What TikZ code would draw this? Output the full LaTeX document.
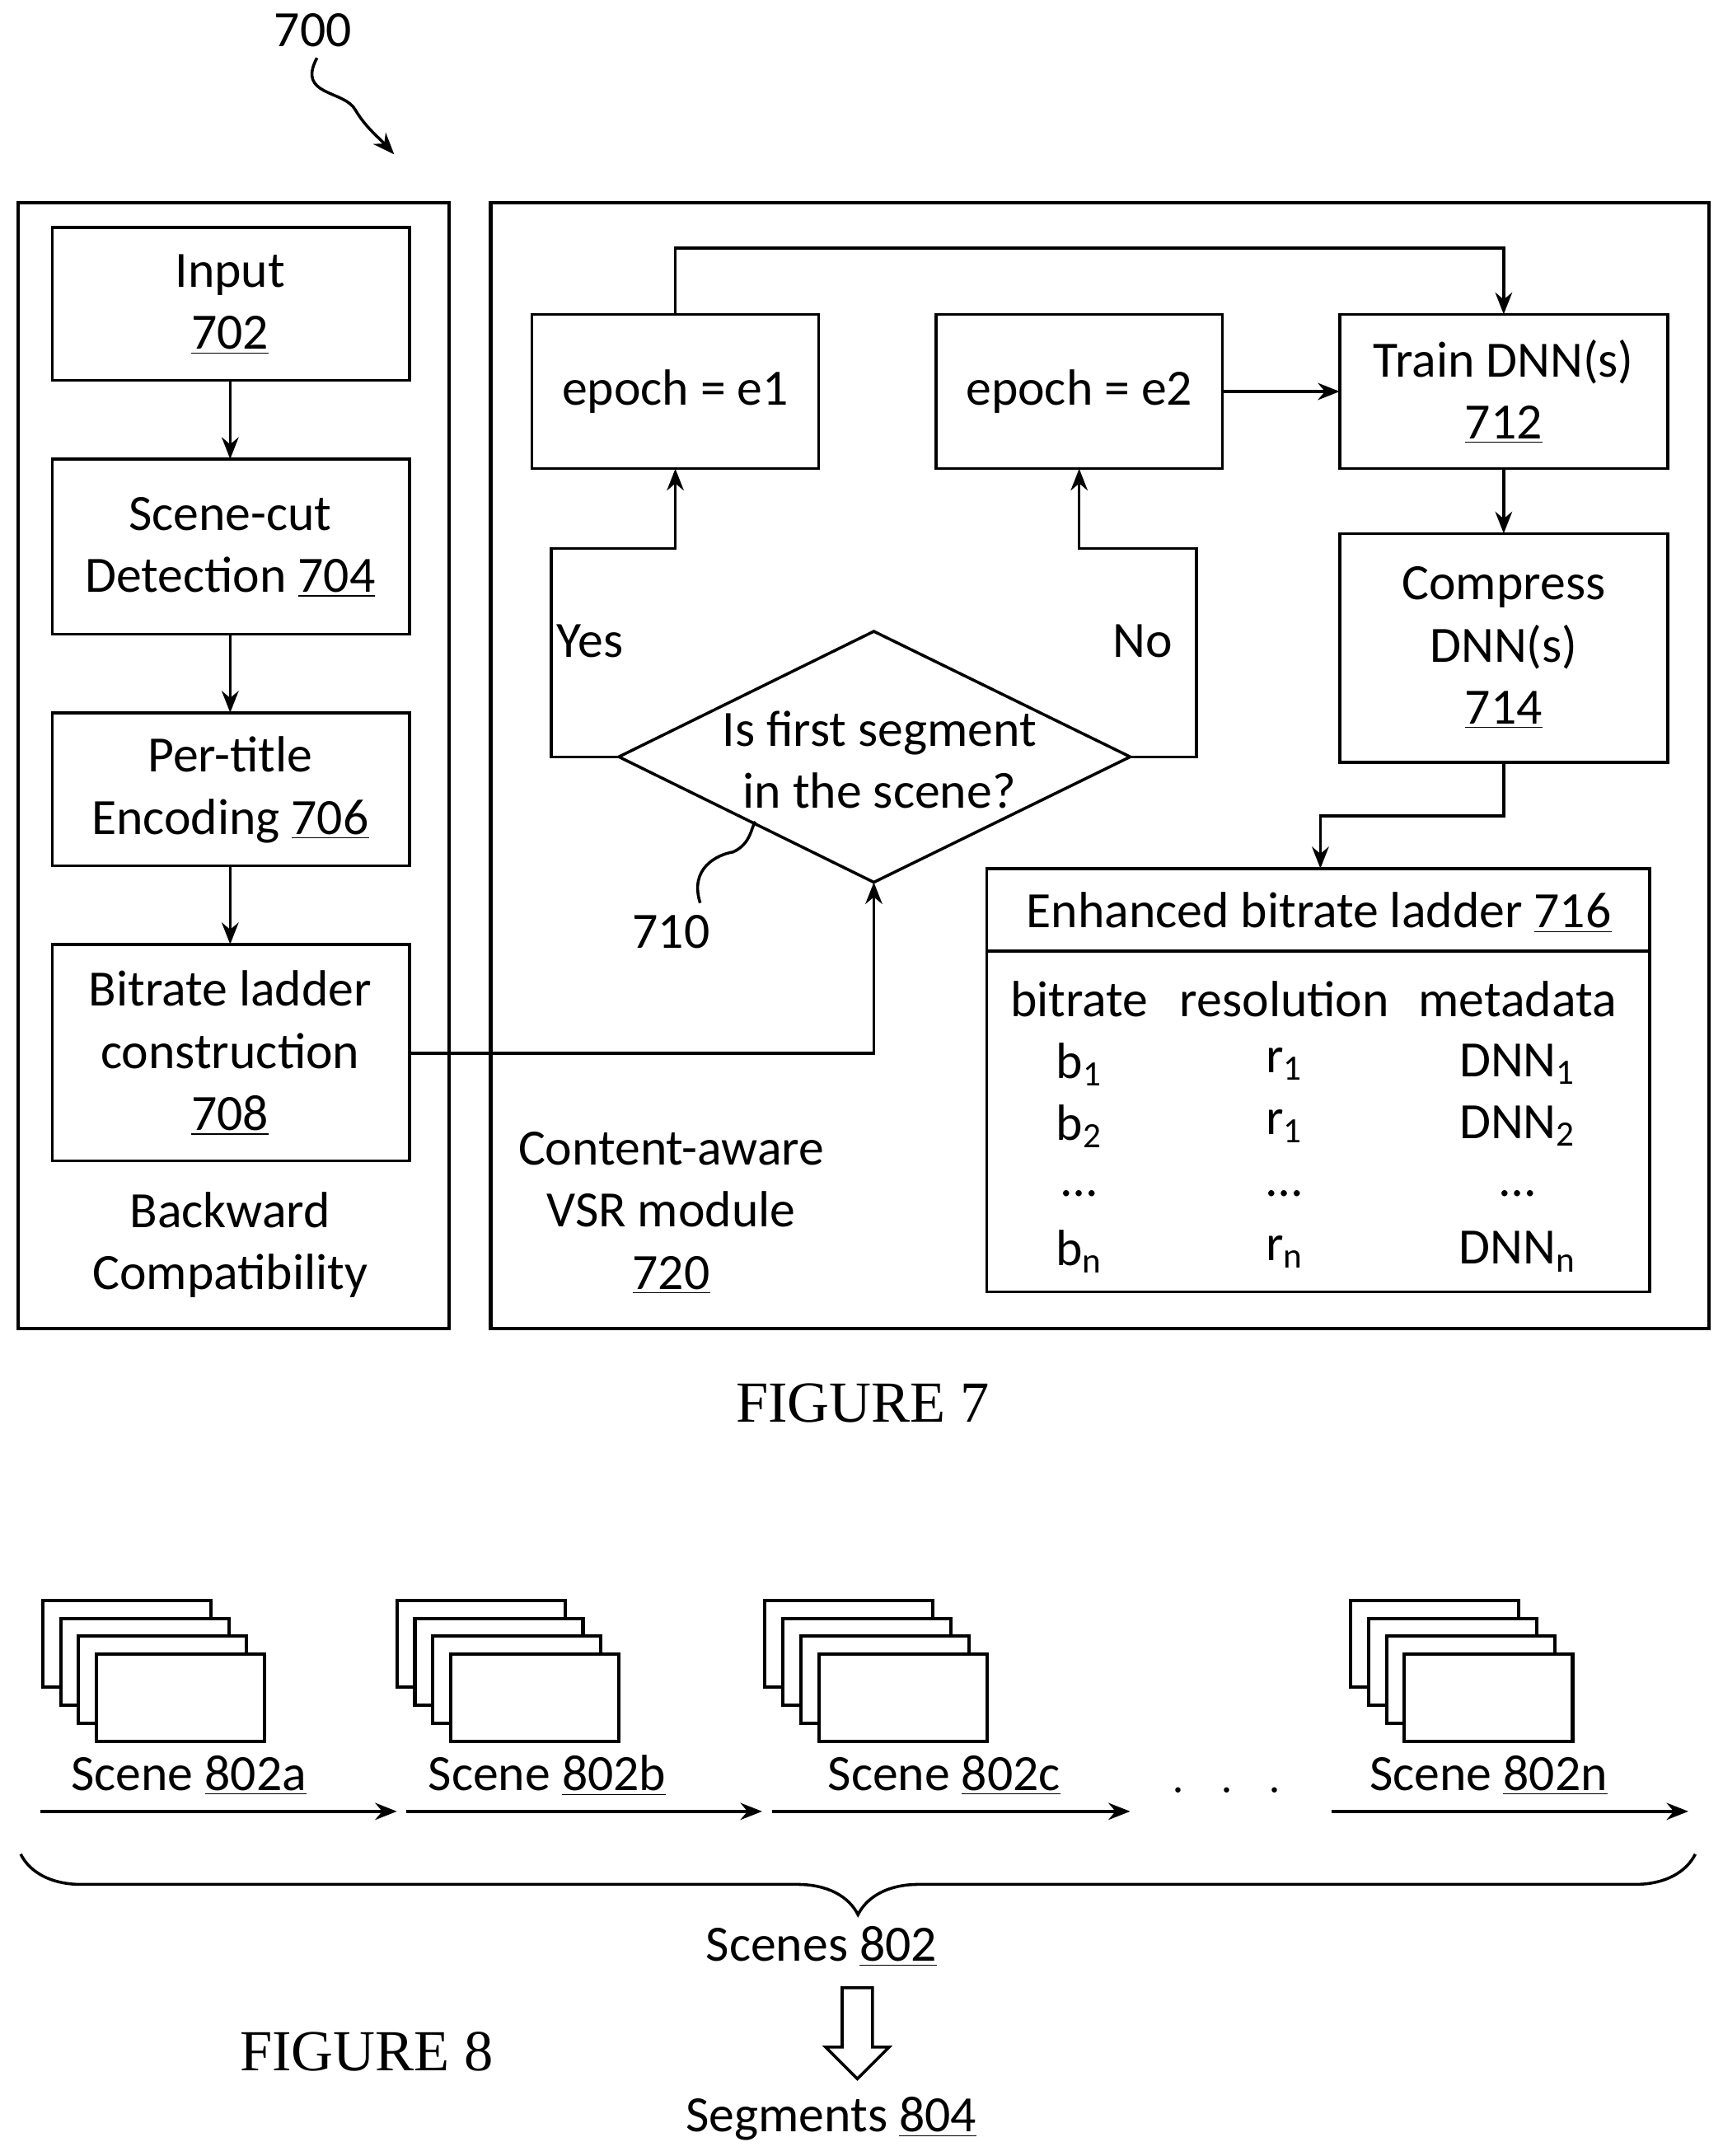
\documentclass[tikz,border=0pt]{standalone}
\usepackage{fontspec}
\setmainfont{Carlito}
\newfontfamily\figfont{Liberation Serif}
\usetikzlibrary{calc,arrows.meta,shapes.geometric,decorations.pathreplacing}
\newcommand{\ul}[1]{\underline{#1}}
\begin{document}
\begin{tikzpicture}[x=0.02cm,y=-0.02cm,
  every node/.style={font=\fontsize{21}{25.6}\selectfont},
  conn/.style={line width=1.2pt,-{Stealth[length=9pt,width=7pt]}},
  frame/.style={draw,line width=1.4pt,fill=white}]
\useasboundingbox (0,0) rectangle (1250,1564);

% figure 7
\node (n700) at (227,22) {700};
\draw[conn] (230,42) .. controls (215,70) and (250,65) .. (258,80) .. controls (265,92) and (275,100) .. (286,112);
\draw[line width=1.4pt] (13,147) rectangle (326,964);
\draw[line width=1.4pt] (356,147) rectangle (1240,964);

\draw[line width=1.2pt] (38,165) rectangle (297,276);
\node (inputt) at (167,221) [align=center] {Input\\\ul{702}};
\draw[line width=1.2pt] (38,333) rectangle (297,460);
\node (scene) at (167,397) [align=center] {Scene-cut\\Detection \ul{704}};
\draw[line width=1.2pt] (38,517) rectangle (297,628);
\node (pertitle) at (167,573) [align=center] {Per-title\\Encoding \ul{706}};
\draw[line width=1.2pt] (38,685) rectangle (297,842);
\node (ladder) at (167,764) [align=center] {Bitrate ladder\\construction\\\ul{708}};
\node (backward) at (167,903) [align=center] {Backward\\Compatibility};
\draw[conn] (167,276) -- (167,333);
\draw[conn] (167,460) -- (167,517);
\draw[conn] (167,628) -- (167,685);

\draw[line width=1.2pt] (386,228) rectangle (594,340);
\node (e1) at (490,284) {epoch = e1};
\draw[line width=1.2pt] (679,228) rectangle (887,340);
\node (e2) at (783,284) {epoch = e2};
\draw[line width=1.2pt] (972,228) rectangle (1210,340);
\node (train) at (1091,284) [align=center] {Train DNN(s)\\\ul{712}};
\draw[line width=1.2pt] (972,387) rectangle (1210,553);
\node (compress) at (1091,470) [align=center] {Compress\\DNN(s)\\\ul{714}};
\draw[line width=1.2pt] (634,458) -- (820,549) -- (634,640) -- (449,549) -- cycle;
\node (decision) at (638,551) [align=center] {Is first segment\\in the scene?};
\node (yes) at (428,465) {Yes};
\node (no) at (829,465) {No};

\draw[conn] (449,549) -- (400,549) -- (400,398) -- (490,398) -- (490,340);
\draw[conn] (820,549) -- (868,549) -- (868,398) -- (783,398) -- (783,340);
\draw[conn] (490,228) -- (490,180) -- (1091,180) -- (1091,228);
\draw[conn] (887,284) -- (972,284);
\draw[conn] (1091,340) -- (1091,387);
\draw[conn] (1091,553) -- (1091,592) -- (958,592) -- (958,630);
\draw[conn] (297,764) -- (634,764) -- (634,640);

\node (n710) at (487,676) {710};
\draw[line width=1.2pt] (508,655) .. controls (500,630) and (520,620) .. (532,618) .. controls (545,612) and (545,600) .. (548,596);

\draw[line width=1.2pt] (716,630) rectangle (1197,937);
\draw[line width=1.2pt] (716,690) -- (1197,690);
\node (enh) at (957,662) {Enhanced bitrate ladder \ul{716}};
\node (module) at (487,880) [align=center] {Content-aware\\VSR module\\\ul{720}};

\foreach \cx/\a/\b/\c/\d/\e in {783/bitrate/b\textsubscript{1}/b\textsubscript{2}/\dots/b\textsubscript{n},
    932/resolution/r\textsubscript{1}/r\textsubscript{1}/\dots/r\textsubscript{n},
    1101/metadata/DNN\textsubscript{1}/DNN\textsubscript{2}/\dots/DNN\textsubscript{n}}{
  \node at (\cx,725) {\a};
  \node at (\cx,772) {\b};
  \node at (\cx,817) {\c};
  \node at (\cx,866) {\d};
  \node at (\cx,908) {\e};
}
\node (fig7) at (626,1018) {\figfont\fontsize{24}{28}\selectfont FIGURE 7};

% figure 8
\foreach \sx/\lx/\nm in {31/137/802a, 288/397/802b, 555/685/802c, 980/1080/802n}{
  \foreach \k in {0,1,2,3}
    \draw[frame] (\sx+13*\k,1161+13*\k) rectangle ++(122,63);
  \node at (\lx,1288) {Scene \ul{\nm}};
}
\draw[conn] (29,1314) -- (288,1314);
\draw[conn] (295,1314) -- (553,1314);
\draw[conn] (560,1314) -- (820,1314);
\draw[conn] (966,1314) -- (1225,1314);
\node (dots) at (890,1300) {$\cdot\ \ \cdot\ \ \cdot$};
\draw[line width=1.2pt,decorate,decoration={brace,mirror,amplitude=25pt}] (15,1345) -- (1230,1345);
\node (scenes) at (596,1412) {Scenes \ul{802}};
\draw[line width=1.2pt] (611,1442) -- (633,1442) -- (633,1485) -- (645,1485) -- (622,1508) -- (599,1485) -- (611,1485) -- cycle;
\node (segments) at (603,1537) {Segments \ul{804}};
\node (fig8) at (266,1488) {\figfont\fontsize{24}{28}\selectfont FIGURE 8};
\end{tikzpicture}
\end{document}
